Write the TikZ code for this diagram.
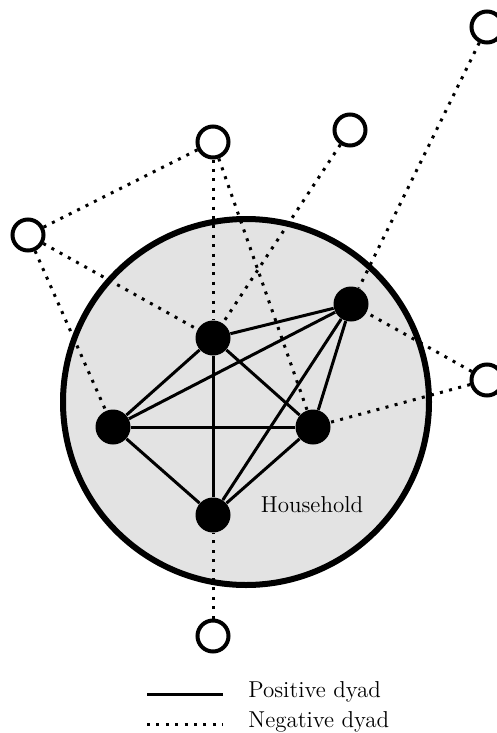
\documentclass[tikz,border=0pt]{standalone}
\usepackage{tikz}
\usetikzlibrary{positioning}

\begin{document}
\begin{tikzpicture}[
	x=0.5pt, y=-0.5pt,
	font=\fontsize{11.5}{13}\selectfont,
	house/.style={circle, draw, line width=3pt, fill=black!11, inner sep=0pt, minimum size=183pt},
	member/.style={circle, fill=black, inner sep=0pt, minimum size=17.5pt},
	outsider/.style={circle, draw, line width=2pt, fill=white, inner sep=0pt, minimum size=15.5pt},
	posdyad/.style={line width=1.5pt},
	negdyad/.style={line width=1.5pt, dash pattern=on 1.5pt off 3.2pt}
]
\useasboundingbox (0,0) rectangle (497,733);

\node[house] (hh) at (246,402) {};
\node[anchor=center] (hhlabel) at (312,505) {Household};

% household members
\node[member] (a) at (213,338) {};
\node[member] (b) at (351,304) {};
\node[member] (c) at (113,427) {};
\node[member] (d) at (313,427) {};
\node[member] (e) at (213,515) {};

% people outside
\node[outsider] (o1) at (213,142) {};
\node[outsider] (o2) at (350,130) {};
\node[outsider] (o3) at (487,27) {};
\node[outsider] (o4) at (28,235) {};
\node[outsider] (o5) at (487,380) {};
\node[outsider] (o6) at (213,636) {};

% positive dyads
\foreach \s/\t in {a/b, a/c, a/d, a/e, b/c, b/d, b/e, c/d, c/e, d/e}
	\draw[posdyad] (\s) -- (\t);

% negative dyads
\foreach \s/\t in {o4/o1, o4/a, o4/c, o1/a, o1/d, o2/a, o3/b, o5/b, o5/d, o6/e}
	\draw[negdyad] (\s) -- (\t);

% legend
\coordinate (posl) at (147,694);
\coordinate (posr) at (223,694);
\coordinate (negl) at (147,724);
\coordinate (negr) at (223,724);
\draw[posdyad] (posl) -- (posr);
\draw[negdyad] (negl) -- (negr);
\node[anchor=west, inner sep=0pt] (poslabel) at (248,692) {Positive dyad};
\node[anchor=west, inner sep=0pt] (neglabel) at (248,722) {Negative dyad};

\end{tikzpicture}
\end{document}
